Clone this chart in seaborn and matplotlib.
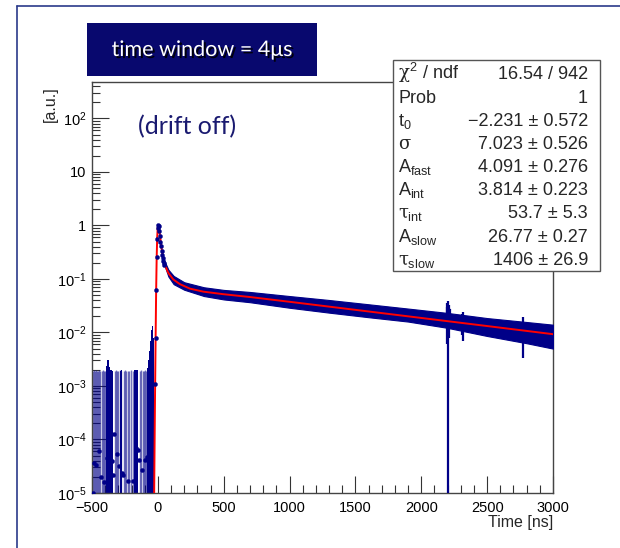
import numpy as np
import matplotlib
matplotlib.use("Agg")
import matplotlib.pyplot as plt
import matplotlib.patheffects as pe
from matplotlib.patches import Rectangle
from matplotlib.lines import Line2D
from matplotlib.ticker import FixedLocator, FuncFormatter, MultipleLocator, NullFormatter
import seaborn as sns

sns.set_theme(style="white")
plt.rcParams["font.family"] = ["Liberation Sans", "DejaVu Sans"]
plt.rcParams["mathtext.fontset"] = "custom"
plt.rcParams["mathtext.rm"] = "Liberation Sans"
plt.rcParams["mathtext.it"] = "DejaVu Serif"
plt.rcParams["mathtext.bf"] = "Liberation Sans:bold"

# ---------------- data ----------------
# fitted pulse shape (red curve), time in ns
fit_t = [-28, -22, -17, -13, -9, -5, -1, 3, 7, 12, 18, 24, 30, 40, 54, 79, 117,
         168, 244, 345, 497, 700, 1000, 1500, 2000, 2500, 3000]
fit_y = [1e-5, 5e-4, 8e-3, 0.06, 0.25, 0.6, 0.92, 1.02, 0.96, 0.8, 0.6, 0.45, 0.35,
         0.25, 0.18, 0.13, 0.098, 0.080, 0.066, 0.058, 0.052, 0.046, 0.0375, 0.0265,
         0.0187, 0.0132, 0.0093]

# averaged waveform: bin content and its error along the tail
band_t = [40, 50, 80, 120, 200, 350, 500, 700, 1000, 1300, 1600, 1900, 2200,
          2500, 2800, 3000]
band_v = [0.235, 0.2, 0.13, 0.097, 0.075, 0.059, 0.052, 0.047, 0.0385, 0.032,
          0.0265, 0.022, 0.0177, 0.0136, 0.0110, 0.0095]
band_e = [0.015, 0.018, 0.019, 0.017, 0.012, 0.011, 0.0105, 0.0102, 0.0095,
          0.0085, 0.0072, 0.006, 0.0055, 0.005, 0.0047, 0.0045]

# bins around the peak
peak_t = [-24, -16, -12, -8, -4, 0, 4, 8, 12, 16, 20, 24, 28, 32, 36, 40, 44, 48]
peak_y = [1.1e-3, 8e-3, 0.061, 0.255, 0.55, 0.9, 1.03, 0.98, 0.8, 0.63, 0.5, 0.41,
          0.33, 0.28, 0.25, 0.22, 0.2, 0.185]

# isolated noisy bins in the tail (time, low edge, high edge)
spike_t = [2195, 2199, 2203, 2207, 2211, 2215, 2311, 2315, 2772]
spike_lo = [0.012, 0.006, 1e-7, 0.008, 0.011, 0.012, 0.009, 0.0068, 0.0034]
spike_hi = [0.030, 0.036, 0.039, 0.033, 0.029, 0.027, 0.022, 0.0241, 0.0195]

# pre-trigger region: upper ends of error bars of single bins
pre_bar_t = [-496, -488, -480, -472, -462, -454, -447, -436, -424, -416, -409, -400,
             -328, -318, -310, -300, -290, -277, -257, -248, -240, -227, -216, -206,
             -189, -138, -126, -113, -104, -95, -88]
pre_bar_top = [1.9e-3, 2.0e-3, 1.9e-3, 2.0e-3, 1.9e-3, 1.9e-3, 2.0e-3, 1.9e-3,
               1.9e-3, 2.0e-3, 1.9e-3, 1.9e-3, 1.9e-3, 2.0e-3, 1.9e-3, 1.9e-3,
               2.0e-3, 1.9e-3, 1.9e-3, 2.0e-3, 1.9e-3, 1.9e-3, 1.9e-3, 2.0e-3,
               1.9e-3, 1.9e-3, 2.0e-3, 1.9e-3, 1.9e-3, 2.0e-3, 1.9e-3]

# pre-trigger region: densely filled bins
dense_t = [-392, -388, -384, -380, -376, -372, -368, -364, -360, -356, -352, -348,
           -344, -284, -280, -276, -272, -176, -172, -168, -164, -160, -156, -152,
           -80, -76, -72, -68, -64, -60, -56, -52, -48, -44, -40, -36, -32, -28]
dense_top = [2.0e-3, 2.4e-3, 3.0e-3, 3.4e-3, 3.0e-3, 2.6e-3, 2.3e-3, 2.1e-3, 2.0e-3,
             2.0e-3, 2.0e-3, 2.0e-3, 1.9e-3, 1.9e-3, 2.0e-3, 2.0e-3, 1.9e-3, 2.0e-3,
             2.1e-3, 2.0e-3, 2.0e-3, 1.9e-3, 2.0e-3, 1.9e-3, 2.2e-3, 2.6e-3, 3.0e-3,
             3.6e-3, 4.5e-3, 5.5e-3, 7.0e-3, 9.0e-3, 1.1e-2, 1.25e-2, 1.3e-2, 1.1e-2,
             8.0e-3, 4.0e-3]

# pre-trigger region: bin contents
pre_pt_t = [-490, -482, -472, -444, -434, -409, -388, -376, -363, -350, -343, -331,
            -308, -295, -275, -262, -229, -191, -166, -153, -141, -120, -98, -85, -65]
pre_pt_y = [1.0e-5, 3.6e-5, 3.3e-5, 6.0e-5, 2.0e-5, 1.6e-5, 4.6e-5, 5.3e-5, 8.0e-5,
            3.9e-5, 2.2e-5, 1.27e-4, 5.3e-5, 3.2e-5, 2.4e-5, 2.2e-5, 1.7e-5, 1.7e-5,
            6.9e-5, 6.3e-5, 4.1e-5, 2.7e-5, 4.1e-5, 4.7e-5, 5.3e-5]

stat_labels = [r"$\chi^{2}$ / ndf", "Prob", r"t$_{0}$", r"$\sigma$",
               r"A$_{\rm fast}$", r"A$_{\rm int}$", r"$\tau_{\rm int}$",
               r"A$_{\rm slow}$", r"$\tau_{\rm slow}$"]
stat_values = ["16.54 / 942", "1", "\u22122.231 \u00b1 0.572", "7.023 \u00b1 0.526",
               "4.091 \u00b1 0.276", "3.814 \u00b1 0.223", "53.7 \u00b1 5.3",
               "26.77 \u00b1 0.27", "1406 \u00b1 26.9"]

x_major = [-500, 0, 500, 1000, 1500, 2000, 2500, 3000]
y_major = [1e-5, 1e-4, 1e-3, 1e-2, 1e-1, 1, 10, 100]

NAVY = "#000088"
W, H = 620, 548


def fx(px):
    return px / W


def fy(py):
    return 1 - py / H


fig = plt.figure(figsize=(6.2, 5.48), dpi=100)
fig.patch.set_facecolor("white")
ax = fig.add_axes([fx(92), fy(493), fx(553) - fx(92), fy(82) - fy(493)])
ax.set_facecolor("white")
ax.set_yscale("log")

# pre-trigger error bars
ax.vlines(pre_bar_t, 1e-7, pre_bar_top, color=NAVY, lw=1.0, alpha=0.55, zorder=2)
ax.bar(dense_t, [t - 1e-7 for t in dense_top], width=4.2, bottom=1e-7,
       color=NAVY, lw=0, zorder=2)

# tail of the waveform with its error band
bv = np.array(band_v)
be = np.array(band_e)
ax.fill_between(band_t, bv - be, bv + be, color=NAVY, lw=0.8, edgecolor=NAVY, zorder=3)
ax.vlines(spike_t, spike_lo, spike_hi, color=NAVY, lw=1.6, zorder=3)

# fitted function
sns.lineplot(x=fit_t, y=fit_y, color="red", lw=1.4, sort=False, ax=ax, zorder=5)

# bin markers
sns.scatterplot(x=peak_t, y=peak_y, color=NAVY, s=9, edgecolor=None, ax=ax, zorder=6)
sns.scatterplot(x=pre_pt_t, y=pre_pt_y, color=NAVY, s=9, edgecolor=None, ax=ax, zorder=6)

ax.set_xlim(-500, 3000)
ax.set_ylim(1e-5, 10 ** 2.682)

ax.xaxis.set_major_locator(FixedLocator(x_major))
ax.xaxis.set_minor_locator(MultipleLocator(100))
ax.yaxis.set_major_locator(FixedLocator(y_major))
minor_y = [m * d for d in [1e-5, 1e-4, 1e-3, 1e-2, 1e-1, 1, 10, 100] for m in range(2, 10)]
ax.yaxis.set_minor_locator(FixedLocator(minor_y))
ax.yaxis.set_minor_formatter(NullFormatter())


def ylab(v, pos):
    e = int(round(np.log10(v)))
    if e == 0:
        return "1"
    if e == 1:
        return "10"
    return r"$10^{%d}$" % e


ax.yaxis.set_major_formatter(FuncFormatter(ylab))
ax.xaxis.set_major_formatter(FuncFormatter(lambda v, p: ("\u2212%d" % -v) if v < 0 else "%d" % v))
ax.tick_params(which="major", direction="in", length=12, width=0.8, colors="#333333",
               labelcolor="black", labelsize=10.5, top=False, right=False,
               bottom=True, left=True, pad=4)
ax.tick_params(axis="x", which="major", pad=6)
ax.tick_params(which="minor", direction="in", length=6, width=0.8, colors="#333333",
               top=False, right=False, bottom=True, left=True)
ax.grid(False)
for s in ax.spines.values():
    s.set_color("#444444")
    s.set_linewidth(1.0)
    s.set_visible(True)
ax.set_xlabel("")
ax.set_ylabel("")

fig.text(fx(553), fy(523), "Time [ns]", ha="right", va="center", fontsize=11.5)
fig.text(fx(50), fy(86), "[a.u.]", ha="center", va="top", rotation=90, fontsize=11.5)

# fit statistics box
fig.patches.append(Rectangle((fx(393), fy(271)), fx(600) - fx(393), fy(60) - fy(271),
                             transform=fig.transFigure, facecolor="white",
                             edgecolor="#555555", lw=1.0, zorder=10))
row_y = [73, 97, 120, 143, 166, 189, 212, 236, 259]
for lab, val, ry in zip(stat_labels, stat_values, row_y):
    fig.text(fx(398), fy(ry + 6), lab, ha="left", va="baseline", fontsize=13, zorder=11)
    fig.text(fx(588), fy(ry + 6), val, ha="right", va="baseline", fontsize=13, zorder=11)

# slide decorations
fig.add_artist(Line2D([fx(17), fx(620)], [fy(6), fy(6)], transform=fig.transFigure,
                      color="#2a3a8a", lw=1.2))
fig.add_artist(Line2D([fx(17), fx(17)], [fy(6), fy(548)], transform=fig.transFigure,
                      color="#2a3a8a", lw=1.2))
fig.patches.append(Rectangle((fx(87), fy(76)), fx(317) - fx(87), fy(23) - fy(76),
                             transform=fig.transFigure, facecolor="#08086e",
                             edgecolor="none", zorder=10))
fig.text(fx(202), fy(50), "time window = 4\u03bcs", ha="center", va="center",
         color="white", fontsize=15.5, family=["Lato", "DejaVu Sans"], zorder=11,
         path_effects=[pe.SimplePatchShadow(offset=(1.5, -1.5), shadow_rgbFace="black",
                                            alpha=0.9), pe.Normal()])
fig.text(fx(138), fy(127), "(drift off)", ha="left", va="center", color="#1a1a70",
         fontsize=18, family=["Lato", "DejaVu Sans"])

fig.savefig("out.png", dpi=100, facecolor="white")
